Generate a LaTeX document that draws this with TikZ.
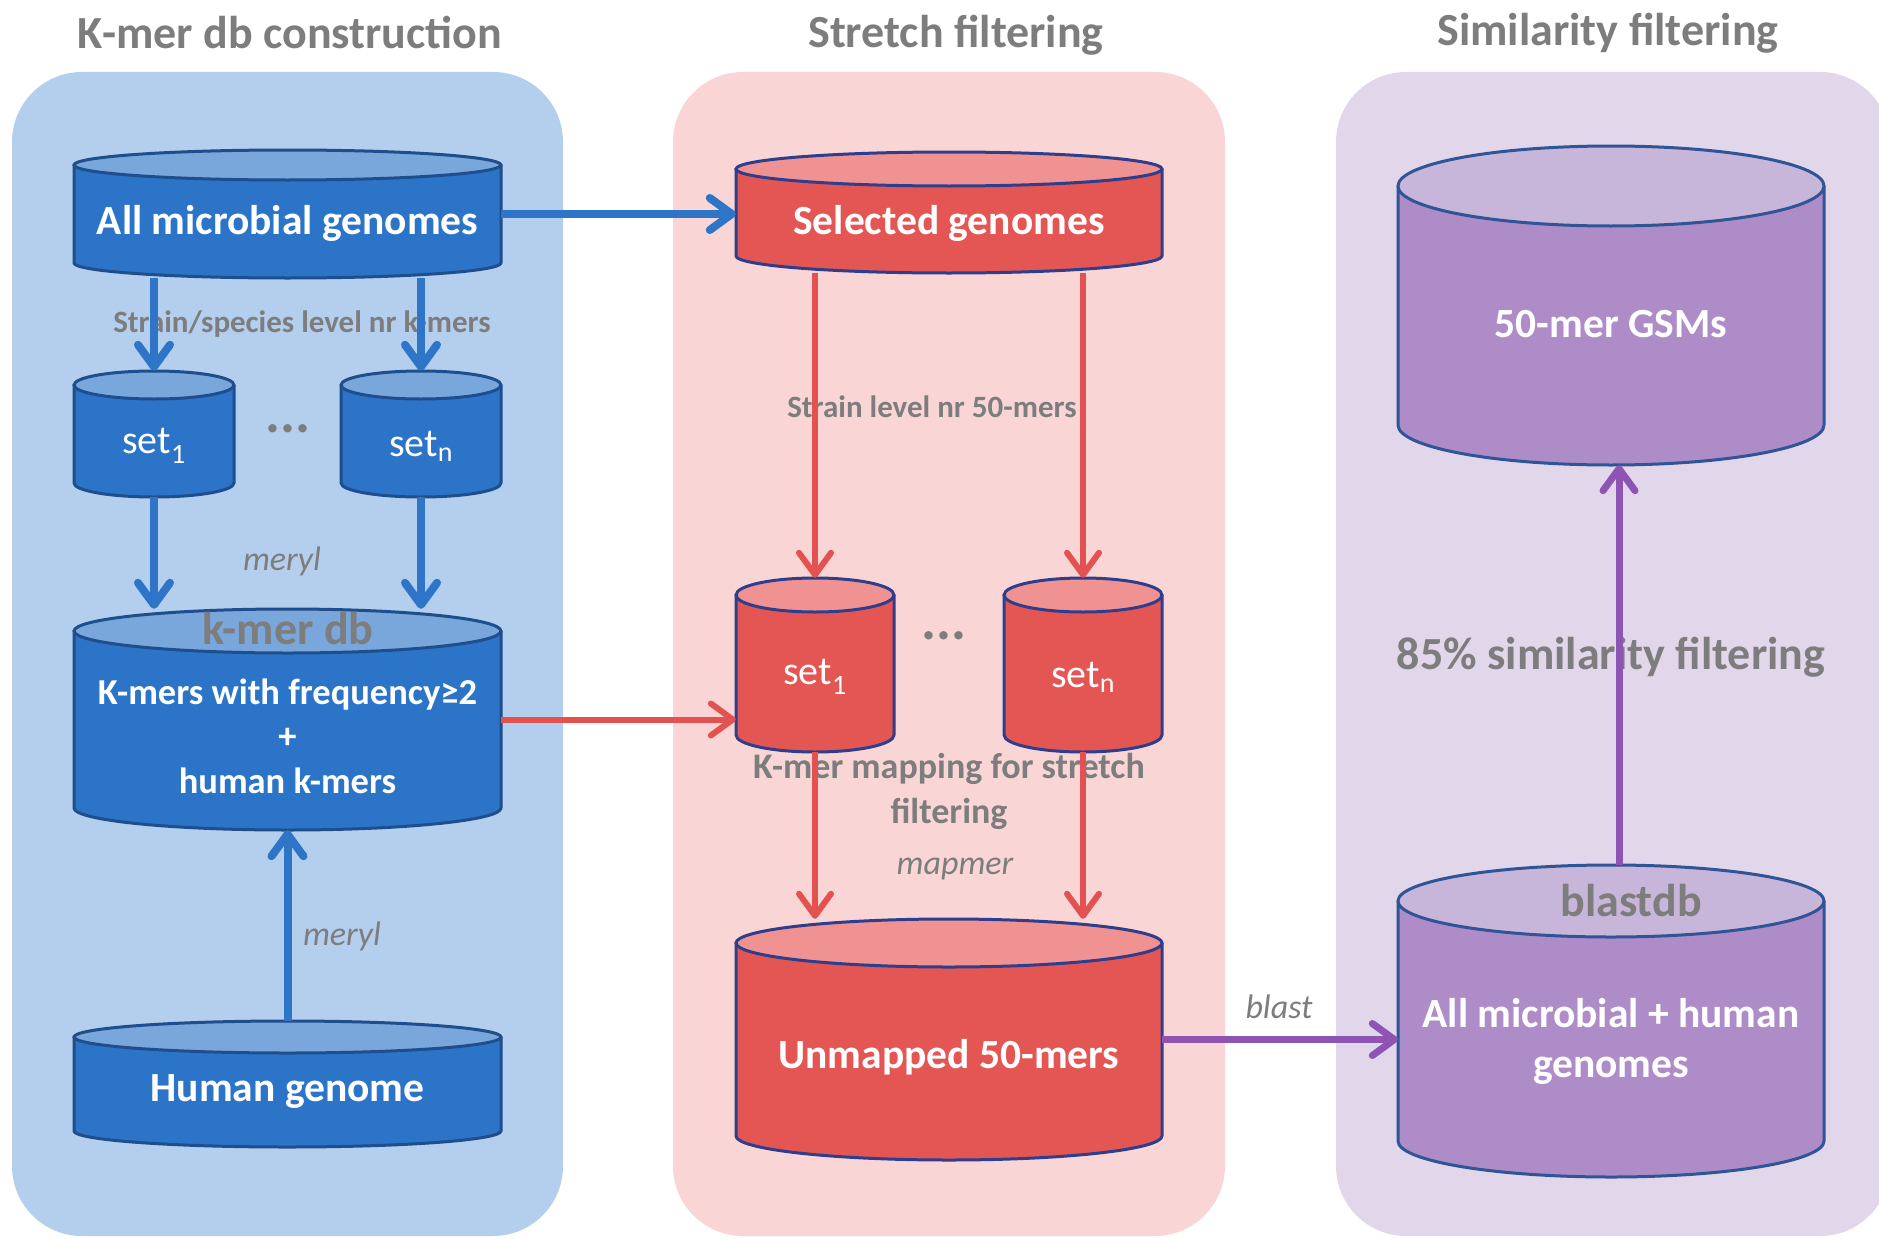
\documentclass[tikz,border=0pt]{standalone}
\usepackage{fontspec}
\setmainfont{Carlito}
\usetikzlibrary{arrows.meta}
\definecolor{labgray}{RGB}{125,125,125}
\definecolor{bpanel}{RGB}{180,206,238}
\definecolor{bbody}{RGB}{44,116,200}
\definecolor{btop}{RGB}{121,166,219}
\definecolor{bline}{RGB}{31,78,140}
\definecolor{barrow}{RGB}{46,117,200}
\definecolor{rpanel}{RGB}{249,214,213}
\definecolor{rbody}{RGB}{228,86,84}
\definecolor{rtop}{RGB}{241,146,146}
\definecolor{rline}{RGB}{47,62,140}
\definecolor{rarrow}{RGB}{227,82,80}
\definecolor{ppanel}{RGB}{226,214,234}
\definecolor{pbody}{RGB}{173,140,200}
\definecolor{ptop}{RGB}{200,182,218}
\definecolor{pline}{RGB}{47,85,151}
\definecolor{parrow}{RGB}{142,84,180}
\newcommand\dbcyl[7]{%
  \fill[#7body] (#2-#5,#3+#6) -- (#2-#5,#4-#6) arc[start angle=180,end angle=0,x radius=#5,y radius=#6] -- (#2+#5,#3+#6) -- cycle;
  \draw[#7line,line width=3pt,line join=round] (#2-#5,#3+#6) -- (#2-#5,#4-#6) arc[start angle=180,end angle=0,x radius=#5,y radius=#6] -- (#2+#5,#3+#6);
  \draw[#7line,line width=3pt,fill=#7top] (#2,#3+#6) ellipse[x radius=#5,y radius=#6];
  \node[inner sep=0pt,minimum width={2*#5pt},minimum height={(#4-#3)*1pt}] (#1) at (#2,{(#3+#4)/2}) {};
}
\tikzset{
  cyltext/.style={text=white,font=\fontsize{41.5}{50}\selectfont\bfseries,align=center},
  settext/.style={text=white,font=\fontsize{40}{48}\selectfont},
  graylab/.style={text=labgray,font=\fontsize{31}{38}\selectfont\bfseries,align=center},
  biglab/.style={text=labgray,font=\fontsize{46}{55}\selectfont\bfseries,align=center},
  dots/.style={text=labgray,font=\fontsize{56}{60}\selectfont\bfseries},
  paneltitle/.style={text=labgray,font=\fontsize{46}{55}\selectfont\bfseries},
  tool/.style={text=labgray,font=\fontsize{34}{40}\selectfont\itshape},
  arrbase/.style={-{Straight Barb[length=22pt,width=32pt,round]}},
  barr/.style={arrbase,draw=barrow,line width=8pt},
  rarr/.style={arrbase,draw=rarrow,line width=6pt},
  parr/.style={arrbase,draw=parrow,line width=7pt},
}
\begin{document}
\begin{tikzpicture}[x=1pt,y=1pt,yscale=-1]
\useasboundingbox (0,0) rectangle (1879,1239);
\fill[white] (0,0) rectangle (1879,1239);
% panels
\fill[bpanel,rounded corners=70pt] (12,72) rectangle (563,1236);
\fill[rpanel,rounded corners=70pt] (673,72) rectangle (1225,1236);
\fill[ppanel,rounded corners=70pt] (1336,72) rectangle (1890,1236);
% titles
\node[paneltitle] (t1) at (290,32) {K-mer db construction};
\node[paneltitle] (t2) at (956,35) {Stretch filtering};
\node[paneltitle] (t3) at (1608,33) {Similarity filtering};
% blue column
\dbcyl{A}{287.5}{150}{278}{213.5}{15}{b}
\dbcyl{s1}{154}{371}{497}{80}{14}{b}
\dbcyl{sn}{421}{371}{497}{80}{14}{b}
\dbcyl{kdb}{287.5}{609}{830}{213.5}{22}{b}
\dbcyl{H}{287.5}{1021}{1147}{213.5}{16}{b}
\node[cyltext] (At) at (287.5,223) {All microbial genomes};
\node[settext] (s1t) at (154,446) {set\textsubscript{1}};
\node[settext] (snt) at (421,446) {set\textsubscript{n}};
\node[dots] (d1) at (288,429) {...};
\node[biglab] (kdbt) at (288,629) {k-mer db};
\node[cyltext,font=\fontsize{36.5}{44.5}\selectfont\bfseries] (kdbm) at (287.5,736) {K-mers with frequency≥2\\+\\human k-mers};
\node[cyltext] (Ht) at (287.5,1092) {Human genome};
\node[graylab] (l1) at (302,324) {Strain/species level nr k-mers};
\node[tool] (m1) at (282,561) {meryl};
\node[tool] (m2) at (342,936) {meryl};
% red column
\dbcyl{Sel}{949}{152}{273}{213}{17}{r}
\dbcyl{r1}{815}{578}{752}{79}{17}{r}
\dbcyl{rn}{1083}{578}{752}{79}{17}{r}
\dbcyl{U}{949}{919}{1160}{213}{24}{r}
\node[cyltext] (Selt) at (949,223) {Selected genomes};
\node[settext] (r1t) at (815,677) {set\textsubscript{1}};
\node[settext] (rnt) at (1083,677) {set\textsubscript{n}};
\node[dots] (d2) at (944,636) {...};
\node[graylab] (l2) at (932,407) {Strain level nr 50-mers};
\node[graylab,font=\fontsize{36}{45}\selectfont\bfseries] (l3) at (949,791) {K-mer mapping for stretch\\filtering};
\node[tool] (mm) at (955,869) {mapmer};
\node[cyltext] (Ut) at (949,1057) {Unmapped 50-mers};
\node[tool] (bl) at (1279,1007) {blast};
% purple column
\dbcyl{G}{1611}{146}{465}{213}{40}{p}
\dbcyl{M}{1611}{865}{1177}{213}{36}{p}
\node[cyltext] (Gt) at (1611,324) {50-mer GSMs};
\node[biglab] (l4) at (1611,657) {85\% similarity filtering};
\node[biglab] (bdb) at (1631,901) {blastdb};
\node[cyltext] (Mt) at (1611,1041) {All microbial + human\\genomes};
% connectors
\draw[barr] (A.south -| s1) -- (s1.north);
\draw[barr] (A.south -| sn) -- (sn.north);
\draw[barr] (s1.south) -- (kdb.north -| s1);
\draw[barr] (sn.south) -- (kdb.north -| sn);
\draw[barr] (H.north) -- (kdb.south);
\draw[barr] (A.east) -- (A.east -| Sel.west);
\draw[rarr] (kdb.east) -- (kdb.east -| r1.west);
\draw[rarr] (Sel.south -| r1) -- (r1.north);
\draw[rarr] (Sel.south -| rn) -- (rn.north);
\draw[rarr] (r1.south) -- (U.north -| r1);
\draw[rarr] (rn.south) -- (U.north -| rn);
\draw[parr] (U.east) -- (U.east -| M.west);
\draw[parr] ([xshift=8pt]M.north) -- ([xshift=8pt]G.south);
\end{tikzpicture}
\end{document}
